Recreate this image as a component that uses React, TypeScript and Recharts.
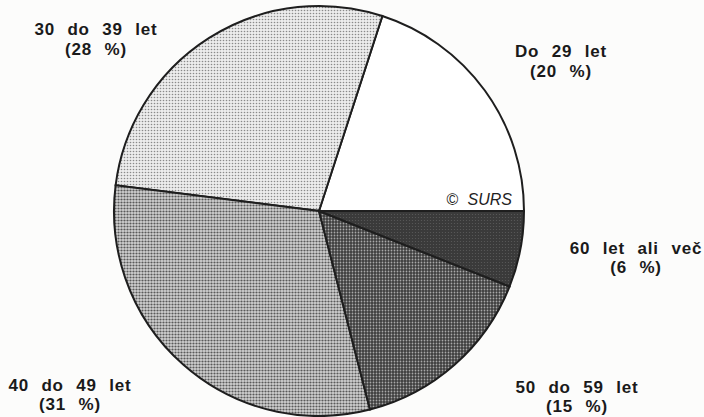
import React from 'react';
import { PieChart, Pie, Cell } from 'recharts';

const categories = ['Do 29 let', '30 do 39 let', '40 do 49 let', '50 do 59 let', '60 let ali več'];
const shares = [20, 28, 31, 15, 6];
const shareLabels = ['(20 %)', '(28 %)', '(31 %)', '(15 %)', '(6 %)'];
const sourceNote = '© SURS';

const data = categories.map((name, i) => ({ name, value: shares[i], pct: shareLabels[i] }));

const fills = ['#ffffff', 'url(#pLight)', 'url(#pMid)', 'url(#pDark)', 'url(#pDarkest)'];
// label anchor offsets relative to the pie centre (first line baseline, gap to second line)
const labelOffsets = [
  { dx: 242, dy: -154, gap: 20 },
  { dx: -223, dy: -176, gap: 20 },
  { dx: -249, dy: 180, gap: 19 },
  { dx: 258, dy: 182, gap: 19 },
  { dx: 317, dy: 43, gap: 19 },
];

const W = 704;
const H = 417;
const CX = 319;
const CY = 211;
const R = 205;

const renderLabel = (props: any) => {
  const { cx, cy, index } = props;
  const o = labelOffsets[index];
  const x = cx + o.dx;
  const y = cy + o.dy;
  return (
    <text
      x={x}
      y={y}
      textAnchor="middle"
      fill="#1a1a1a"
      style={{ fontFamily: '"Liberation Sans", Arial, sans-serif', fontWeight: 700, fontSize: 17, wordSpacing: 7, letterSpacing: 0.8 }}
    >
      <tspan x={x} y={y}>{categories[index]}</tspan>
      <tspan x={x} y={y + o.gap}>{shareLabels[index]}</tspan>
    </text>
  );
};

export default function App() {
  return (
    <div style={{ position: 'fixed', left: 0, top: 0, width: W, height: H, background: '#fcfcfb' }}>
      <PieChart width={W} height={H} margin={{ top: 0, right: 0, bottom: 0, left: 0 }}>
        <defs>
          <pattern id="pLight" width="3" height="3" patternUnits="userSpaceOnUse">
            <rect width="3" height="3" fill="#ececec" />
            <circle cx="1.5" cy="1.5" r="0.8" fill="#8a8a8a" />
          </pattern>
          <pattern id="pMid" width="3" height="3" patternUnits="userSpaceOnUse">
            <rect width="3" height="3" fill="#d2d2d2" />
            <circle cx="1.5" cy="1.5" r="1.1" fill="#5a5a5a" />
          </pattern>
          <pattern id="pDark" width="3" height="3" patternUnits="userSpaceOnUse">
            <rect width="3" height="3" fill="#3e3e3e" />
            <circle cx="1.5" cy="1.5" r="0.9" fill="#a8a8a8" />
          </pattern>
          <pattern id="pDarkest" width="3" height="3" patternUnits="userSpaceOnUse">
            <rect width="3" height="3" fill="#3a3a3a" />
            <circle cx="1.5" cy="1.5" r="0.6" fill="#5a5a5a" />
          </pattern>
        </defs>
        <Pie
          data={data}
          dataKey="value"
          nameKey="name"
          cx={CX}
          cy={CY}
          outerRadius={R}
          startAngle={0}
          endAngle={360}
          stroke="#1e1e1e"
          strokeWidth={2}
          label={renderLabel}
          labelLine={false}
          isAnimationActive={false}
        >
          {data.map((d, i) => (
            <Cell key={d.name} fill={fills[i]} />
          ))}
        </Pie>
      </PieChart>
      <svg width={W} height={H} style={{ position: 'absolute', left: 0, top: 0, pointerEvents: 'none' }}>
        <text
          x={512}
          y={205}
          textAnchor="end"
          fill="#222"
          style={{ fontFamily: '"Liberation Sans", Arial, sans-serif', fontStyle: 'italic', fontSize: 16, wordSpacing: 5 }}
        >
          {sourceNote}
        </text>
      </svg>
    </div>
  );
}
